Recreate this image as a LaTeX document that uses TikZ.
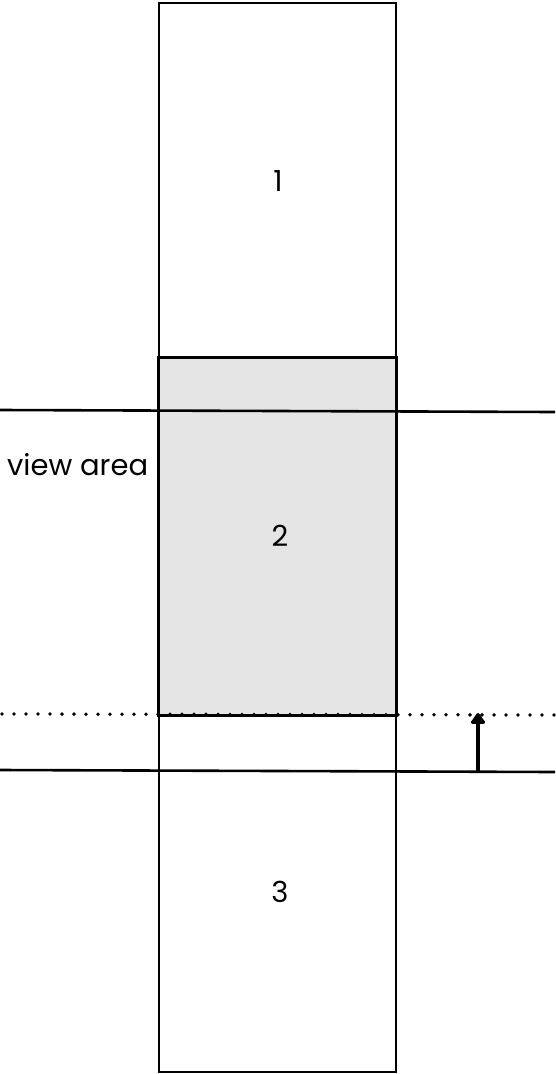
\documentclass[tikz,border=0pt]{standalone}
\usepackage{fontspec}
\setmainfont{Poppins}
\usetikzlibrary{arrows.meta}
\begin{document}
\begin{tikzpicture}[x=1pt,y=-1pt,
  panel/.style={draw=black,line width=2pt},
  lbl/.style={font=\fontsize{29}{34}\selectfont,text=black},
  hline/.style={draw=black,line width=2.6pt},
  dotline/.style={draw=black,line width=3.8pt,line cap=round,dash pattern=on 0pt off 12pt}]
\useasboundingbox (0,0) rectangle (555,1074);
\fill[white] (0,0) rectangle (555,1074);
\node[panel,minimum width=237pt,minimum height=355pt,anchor=north west,inner sep=0pt] (b1) at (158,2) {};
\node[panel,fill=black!10,minimum width=237pt,minimum height=357pt,anchor=north west,inner sep=0pt] (b2) at (158,357) {};
\node[panel,minimum width=237pt,minimum height=357pt,anchor=north west,inner sep=0pt] (b3) at (158,714) {};
\node[lbl] (n1) at (278,181) {1};
\node[lbl] (n2) at (280,536) {2};
\node[lbl] (n3) at (280,892) {3};
\coordinate (t1) at (0,410);
\coordinate (t2) at (555,412);
\coordinate (d1) at (2,714);
\coordinate (d2) at (555,715);
\coordinate (u1) at (0,770);
\coordinate (u2) at (555,772);
\draw[hline] (t1) -- (t2);
\draw[hline] (u1) -- (u2);
\draw[dotline] (d1) -- (d2);
\node[lbl,anchor=west,inner sep=0pt] (va) at (7,465) {view area};
\coordinate (a0) at (478,772);
\coordinate (a1) at (478,713);
\draw[line width=3.5pt,-{Triangle[width=16pt,length=12pt,round]}] (a0) -- (a1);
\draw[panel] (b2.north west) rectangle (b2.south east);
\end{tikzpicture}
\end{document}
